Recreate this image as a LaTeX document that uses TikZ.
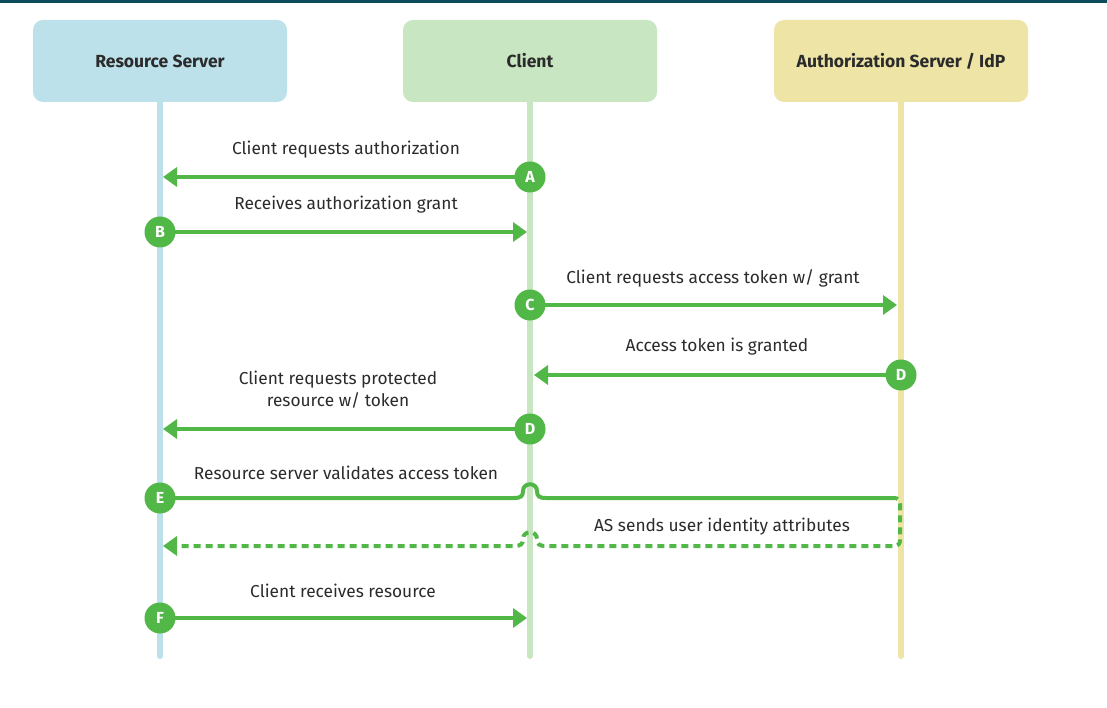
\documentclass[tikz,border=0pt]{standalone}
\usepackage{fontspec}
\setmainfont{Fira Sans}
\usetikzlibrary{arrows.meta}
\definecolor{topbar}{HTML}{0C4B5B}
\definecolor{rsfill}{HTML}{BDE1EB}
\definecolor{clfill}{HTML}{C8E6C1}
\definecolor{asfill}{HTML}{EDE4A6}
\definecolor{flow}{HTML}{51B848}
\definecolor{txt}{HTML}{2B2B2B}
\tikzset{
  hdr/.style={rounded corners=10pt, minimum width=254pt, minimum height=82pt, inner sep=0pt,
    text=txt, font=\fontsize{17.5}{20}\selectfont\bfseries},
  life/.style={line width=6pt, line cap=round},
  badge/.style={circle, fill=flow, minimum size=31pt, inner sep=0pt, text=white,
    font=\fontsize{16}{18}\selectfont\bfseries},
  msg/.style={draw=flow, line width=4pt, -{Triangle[length=14pt,width=19pt]}},
  plainmsg/.style={draw=flow, line width=4pt},
  dotmsg/.style={draw=flow, line width=4pt, dash pattern=on 7pt off 5pt, -{Triangle[length=14pt,width=19pt]}},
  lbl/.style={text=txt, font=\fontsize{17.3}{22}\selectfont, align=center, inner sep=0pt},
}
\begin{document}
\begin{tikzpicture}[x=1pt,y=-1pt]
\useasboundingbox (0,0) rectangle (1107,708);
\fill[white] (0,0) rectangle (1107,708);
\fill[topbar] (0,0) rectangle (1107,3);
% headers
\node[hdr, fill=rsfill] (rs) at (160,61) {Resource Server};
\node[hdr, fill=clfill] (cl) at (530,61) {Client};
\node[hdr, fill=asfill] (as) at (901,61) {Authorization Server / IdP};
% lifeline ends
\coordinate (rsend) at (160,656);
\coordinate (clend) at (530,656);
\coordinate (asend) at (901,656);
\draw[life, draw=rsfill] (rs.south) -- (rsend);
\draw[life, draw=clfill] (cl.south) -- (clend);
\draw[life, draw=asfill] (as.south) -- (asend);
% arrow end points
\coordinate (pA) at (163,177);
\coordinate (pB) at (527,232);
\coordinate (pC) at (897,305);
\coordinate (pD) at (534,375);
\coordinate (pD2) at (163,429);
\coordinate (pE) at (891,498);
\coordinate (pE2) at (163,546);
\coordinate (pF) at (527,618);
% badge anchors
\coordinate (a) at (530,177);
\coordinate (b) at (160,232);
\coordinate (c) at (530,305);
\coordinate (d) at (901,375);
\coordinate (d2) at (530,429);
\coordinate (e) at (160,498);
\coordinate (f) at (160,618);
% messages
\draw[msg] (a) -- (pA);
\draw[msg] (b) -- (pB);
\draw[msg] (c) -- (pC);
\draw[msg] (d) -- (pD);
\draw[msg] (d2) -- (pD2);
\draw[plainmsg] (e) -- (514,498) .. controls (521,498) and (523,496) .. (523,491)
  .. controls (523,482) and (537,482) .. (537,491)
  .. controls (537,496) and (539,498) .. (546,498) -- (pE);
\draw[dotmsg] (pE) -- (894,498) .. controls (898,498) and (900,500) .. (900,504)
  -- (900,540) .. controls (900,544) and (898,546) .. (894,546)
  -- (546,546) .. controls (539,546) and (537,544) .. (537,539)
  .. controls (537,530) and (523,530) .. (523,539)
  .. controls (523,544) and (521,546) .. (514,546) -- (pE2);
\draw[msg] (f) -- (pF);
% badges
\node[badge] (ba) at (a) {A};
\node[badge] (bb) at (b) {B};
\node[badge] (bc) at (c) {C};
\node[badge] (bd) at (d) {D};
\node[badge] (bd2) at (d2) {D};
\node[badge] (be) at (e) {E};
\node[badge] (bf) at (f) {F};
% labels
\node[lbl] (lA) at (346,150) {Client requests authorization};
\node[lbl] (lB) at (346,205) {Receives authorization grant};
\node[lbl] (lC) at (713,278) {Client requests access token w/ grant};
\node[lbl] (lD) at (717,347) {Access token is granted};
\node[lbl] (lD2) at (338,390) {Client requests protected\\resource w/ token};
\node[lbl] (lE) at (346,473) {Resource server validates access token};
\node[lbl] (lE2) at (722,527) {AS sends user identity attributes};
\node[lbl] (lF) at (343,591) {Client receives resource};
\end{tikzpicture}
\end{document}
